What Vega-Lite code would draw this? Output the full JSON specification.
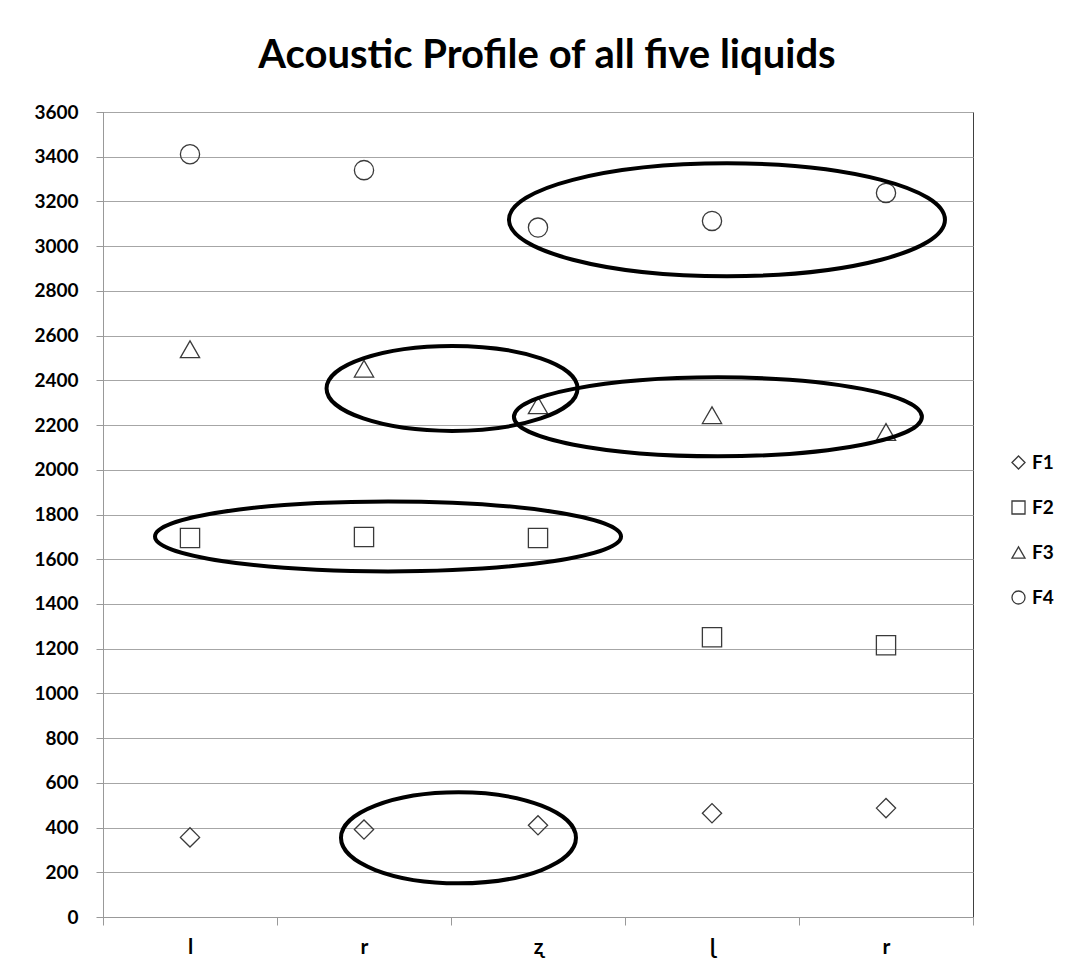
{
  "$schema": "https://vega.github.io/schema/vega-lite/v6.json",
  "autosize": {"type": "none"},
  "width": 870,
  "height": 805,
  "padding": {"left": 103, "top": 112, "right": 104, "bottom": 63},
  "background": "white",
  "title": {
    "text": "Acoustic Profile of all five liquids",
    "font": "Lato",
    "fontSize": 40,
    "fontWeight": "bold",
    "color": "#000000",
    "anchor": "middle",
    "offset": 27,
    "dx": 9
  },
  "config": {
    "font": "Lato",
    "view": {"stroke": "#404040", "strokeWidth": 1}
  },
  "datasets": {
    "formants": [
      {"pos": 1, "series": "F1", "hz": 356},
      {"pos": 2, "series": "F1", "hz": 391},
      {"pos": 3, "series": "F1", "hz": 410},
      {"pos": 4, "series": "F1", "hz": 464},
      {"pos": 5, "series": "F1", "hz": 487},
      {"pos": 1, "series": "F2", "hz": 1695},
      {"pos": 2, "series": "F2", "hz": 1699},
      {"pos": 3, "series": "F2", "hz": 1695},
      {"pos": 4, "series": "F2", "hz": 1251},
      {"pos": 5, "series": "F2", "hz": 1215},
      {"pos": 1, "series": "F3", "hz": 2539},
      {"pos": 2, "series": "F3", "hz": 2452},
      {"pos": 3, "series": "F3", "hz": 2288},
      {"pos": 4, "series": "F3", "hz": 2244},
      {"pos": 5, "series": "F3", "hz": 2169},
      {"pos": 1, "series": "F4", "hz": 3411},
      {"pos": 2, "series": "F4", "hz": 3340},
      {"pos": 3, "series": "F4", "hz": 3083},
      {"pos": 4, "series": "F4", "hz": 3113},
      {"pos": 5, "series": "F4", "hz": 3238}
    ],
    "rings": [
      {"ring": "A", "pos": 4.086, "hz": 3118},
      {"ring": "B", "pos": 2.506, "hz": 2364},
      {"ring": "C", "pos": 4.034, "hz": 2237},
      {"ring": "D", "pos": 2.138, "hz": 1702},
      {"ring": "E", "pos": 2.543, "hz": 354}
    ]
  },
  "layer": [
    {
      "data": {"name": "formants"},
      "mark": {"type": "point", "filled": false, "color": "#3a3a3a", "strokeWidth": 1.3, "size": 370, "opacity": 1},
      "encoding": {
        "x": {
          "field": "pos",
          "type": "quantitative",
          "scale": {"domain": [0.5, 5.5], "nice": false, "zero": false},
          "axis": {
            "title": null,
            "values": [0.5, 1, 1.5, 2, 2.5, 3, 3.5, 4, 4.5, 5, 5.5],
            "labelExpr": "datum.value == 1 ? 'l' : datum.value == 2 ? 'r' : datum.value == 3 ? 'ʐ' : datum.value == 4 ? 'ɭ' : datum.value == 5 ? 'r' : ''",
            "grid": false,
            "domainColor": "#999999",
            "tickColor": "#999999",
            "tickSize": 8,
            "tickOpacity": {"condition": {"test": "datum.value % 1 === 0", "value": 0}, "value": 1},
            "labelFont": "Lato, DejaVu Sans",
            "labelFontSize": 21,
            "labelFontWeight": "bold",
            "labelColor": "#000000",
            "labelPadding": 11,
            "labelFlush": false,
            "labelOverlap": false
          }
        },
        "y": {
          "field": "hz",
          "type": "quantitative",
          "scale": {"domain": [0, 3600], "nice": false},
          "axis": {
            "title": null,
            "format": "d",
            "values": [0, 200, 400, 600, 800, 1000, 1200, 1400, 1600, 1800, 2000, 2200, 2400, 2600, 2800, 3000, 3200, 3400, 3600],
            "grid": true,
            "gridColor": "#a6a6a6",
            "gridWidth": 1.2,
            "domainColor": "#999999",
            "tickColor": "#999999",
            "tickSize": 7,
            "labelFont": "Lato",
            "labelFontSize": 19,
            "labelFontWeight": "bold",
            "labelColor": "#000000",
            "labelPadding": 18,
            "labelOverlap": false
          }
        },
        "shape": {
          "field": "series",
          "type": "nominal",
          "scale": {"domain": ["F1", "F2", "F3", "F4"], "range": ["diamond", "square", "triangle-up", "circle"]},
          "legend": {
            "title": null,
            "orient": "none",
            "legendX": 906,
            "legendY": 341,
            "padding": 0,
            "symbolSize": 170,
            "symbolStrokeWidth": 1.3,
            "symbolStrokeColor": "#3a3a3a",
            "symbolFillColor": "transparent",
            "labelFont": "Lato",
            "labelFontSize": 19,
            "labelFontWeight": "bold",
            "labelColor": "#000000",
            "labelOffset": 4,
            "rowPadding": 25
          }
        }
      }
    },
    {
      "data": {"name": "rings"},
      "mark": {"type": "point", "filled": false, "color": "#000000", "strokeWidth": 4, "size": 4, "opacity": 1},
      "encoding": {
        "x": {"field": "pos", "type": "quantitative"},
        "y": {"field": "hz", "type": "quantitative"},
        "shape": {
          "field": "ring",
          "type": "nominal",
          "scale": {
            "domain": ["A", "B", "C", "D", "E"],
            "range": [
              "M -218 0 A 218 56.5 0 1 0 218 0 A 218 56.5 0 1 0 -218 0 Z",
              "M -125.5 0 A 125.5 42.5 0 1 0 125.5 0 A 125.5 42.5 0 1 0 -125.5 0 Z",
              "M -204 0 A 204 39.5 0 1 0 204 0 A 204 39.5 0 1 0 -204 0 Z",
              "M -233 0 A 233 35 0 1 0 233 0 A 233 35 0 1 0 -233 0 Z",
              "M -117.5 0 A 117.5 45.5 0 1 0 117.5 0 A 117.5 45.5 0 1 0 -117.5 0 Z"
            ]
          },
          "legend": null
        }
      }
    }
  ],
  "resolve": {"scale": {"shape": "independent"}}
}
